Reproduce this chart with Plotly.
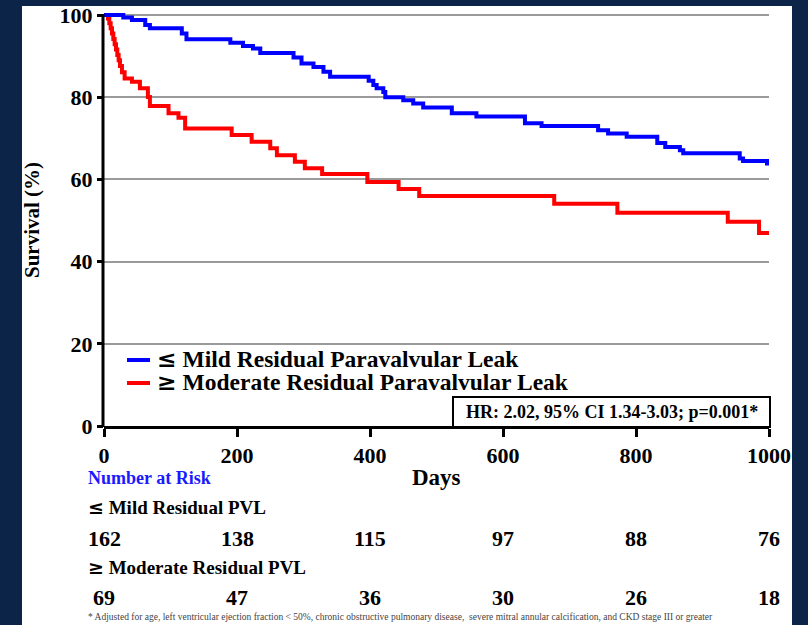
import plotly.graph_objects as go

# ---------------- data ----------------
x_ticks = [0, 200, 400, 600, 800, 1000]
y_ticks = [0, 20, 40, 60, 80, 100]

mild_days = [0, 29, 42, 62, 69, 117, 124, 190, 209, 224, 235, 285, 297, 315, 330, 340,
             398, 405, 410, 420, 423, 450, 465, 480, 523, 560, 633, 658, 743, 758, 786,
             832, 844, 866, 871, 956, 961, 997, 1000]
mild_surv = [100, 99.4, 98.8, 97.6, 96.8, 95.5, 94.1, 93.3, 92.5, 91.9, 90.8, 89.7, 88.2,
             87.4, 86.2, 85.0, 84.0, 83.0, 82.2, 81.3, 80.0, 79.3, 78.5, 77.5, 76.1, 75.3,
             73.7, 73.0, 72.0, 71.2, 70.4, 68.9, 67.9, 67.1, 66.4, 65.1, 64.5, 63.9, 63.9]

mod_days = [0, 6, 8, 10, 12, 14, 16, 18, 20, 22, 24, 27, 31, 42, 54, 66, 69, 97, 112, 122,
            192, 222, 250, 260, 287, 302, 328, 396, 443, 474, 677, 772, 938, 985, 1000]
mod_surv = [100, 99.2, 98.0, 96.8, 95.5, 94.2, 92.9, 91.6, 90.3, 89.0, 87.6, 86.1, 84.6,
            83.8, 82.2, 80.1, 77.9, 76.1, 75.0, 72.4, 70.8, 69.2, 67.6, 65.9, 64.3, 62.7,
            61.3, 59.4, 57.7, 56.0, 54.1, 51.9, 49.7, 47.0, 47.0]

LE = "<span style=\"font-family:'DejaVu Serif'\">≤</span>"
GE = "<span style=\"font-family:'DejaVu Serif'\">≥</span>"
mild_label = LE + " Mild Residual Paravalvular Leak"
mod_label = GE + " Moderate Residual Paravalvular Leak"
hr_text = "HR: 2.02, 95% CI 1.34-3.03; p=0.001*"
risk_title = "Number at Risk"
mild_row_label = LE + " Mild Residual PVL"
mod_row_label = GE + " Moderate Residual PVL"
mild_at_risk = [162, 138, 115, 97, 88, 76]
mod_at_risk = [69, 47, 36, 30, 26, 18]
footnote = ("* Adjusted for age, left ventricular ejection fraction &lt; 50%, chronic obstructive "
            "pulmonary disease,  severe mitral annular calcification, and CKD stage III or greater")

BLUE = "#0000ff"
RED = "#ff0000"
NAVY = "#0b2447"
SERIF = "Liberation Serif, Times New Roman, serif"

# ---------------- layout geometry ----------------
W, H = 808, 625
L, R, T, B = 104, 39, 11, 199
PW, PH = W - L - R, H - T - B


def px2x(px):
    return (px - L) / PW


def py2y(py):
    return (H - B - py) / PH


fig = go.Figure()
fig.add_trace(go.Scatter(x=mod_days, y=mod_surv, mode="lines", name="≥ Moderate Residual Paravalvular Leak",
                         line=dict(color=RED, width=4, shape="hv"), showlegend=False))
fig.add_trace(go.Scatter(x=mild_days, y=mild_surv, mode="lines", name="≤ Mild Residual Paravalvular Leak",
                         line=dict(color=BLUE, width=4, shape="hv"), showlegend=False))

shapes = []
# white panel
shapes.append(dict(type="rect", xref="paper", yref="paper", x0=px2x(22), x1=px2x(792),
                   y0=py2y(632), y1=py2y(6), fillcolor="white", line=dict(width=0),
                   layer="below"))
# y axis line
shapes.append(dict(type="line", xref="paper", yref="paper", x0=px2x(103), x1=px2x(103),
                   y0=py2y(427), y1=py2y(14), line=dict(color="black", width=3)))
# legend samples
shapes.append(dict(type="line", xref="paper", yref="paper", x0=px2x(127), x1=px2x(150),
                   y0=py2y(360), y1=py2y(360), line=dict(color=BLUE, width=4)))
shapes.append(dict(type="line", xref="paper", yref="paper", x0=px2x(127), x1=px2x(150),
                   y0=py2y(383), y1=py2y(383), line=dict(color=RED, width=4)))
# HR box
shapes.append(dict(type="rect", xref="paper", yref="paper", x0=px2x(453), x1=px2x(770),
                   y0=py2y(427), y1=py2y(397), fillcolor="white",
                   line=dict(color="black", width=2)))

ann = []


def text(s, px, py, size, xanchor="left", color="black", bold=True, xref="paper", x=None,
         angle=0):
    ann.append(dict(text=s, xref=xref, yref="paper",
                    x=px2x(px) if x is None else x, y=py2y(py),
                    xanchor=xanchor, yanchor="middle", showarrow=False, textangle=angle,
                    font=dict(family=SERIF, size=size, color=color,
                              weight="bold" if bold else "normal")))


text(mild_label, 155, 359, 23.5)
text(mod_label, 155, 382, 23.5)
text(hr_text, 611.5, 412, 18, xanchor="center")
text("Survival (%)", 32, 220, 21, xanchor="center", angle=-90)
text("Days", 436, 477, 23, xanchor="center")
text(risk_title, 86, 478, 18, color="#1a1aff")
text(mild_row_label, 86, 507, 19)
text(mod_row_label, 86, 567, 19)
for xv, n in zip(x_ticks, mild_at_risk):
    text(str(n), 0, 538, 22, xanchor="center", xref="x", x=xv)
for xv, n in zip(x_ticks, mod_at_risk):
    text(str(n), 0, 597, 22, xanchor="center", xref="x", x=xv)
text(footnote, 86, 617, 9.5, color="#444444", bold=False)

fig.update_layout(
    width=W, height=H,
    margin=dict(l=L, r=R, t=T, b=B),
    paper_bgcolor=NAVY, plot_bgcolor="white",
    shapes=shapes, annotations=ann,
    xaxis=dict(range=[0, 1000], tickvals=x_ticks, showgrid=False, zeroline=False,
               automargin=False,
               showline=True, linecolor="black", linewidth=3,
               ticks="outside", ticklen=8, tickwidth=3, tickcolor="black",
               tickfont=dict(family=SERIF, size=22, color="black", weight="bold")),
    yaxis=dict(range=[0, 101], tickvals=y_ticks, showgrid=True, gridcolor="#9a9a9a",
               gridwidth=2, zeroline=False, showline=False, automargin=False,
               ticks="outside", ticklen=6, tickwidth=3, tickcolor="black",
               tickfont=dict(family=SERIF, size=22, color="black", weight="bold")),
)

fig.write_html("out.html", config={"displayModeBar": False},
               post_script="document.body.style.margin='0';")
